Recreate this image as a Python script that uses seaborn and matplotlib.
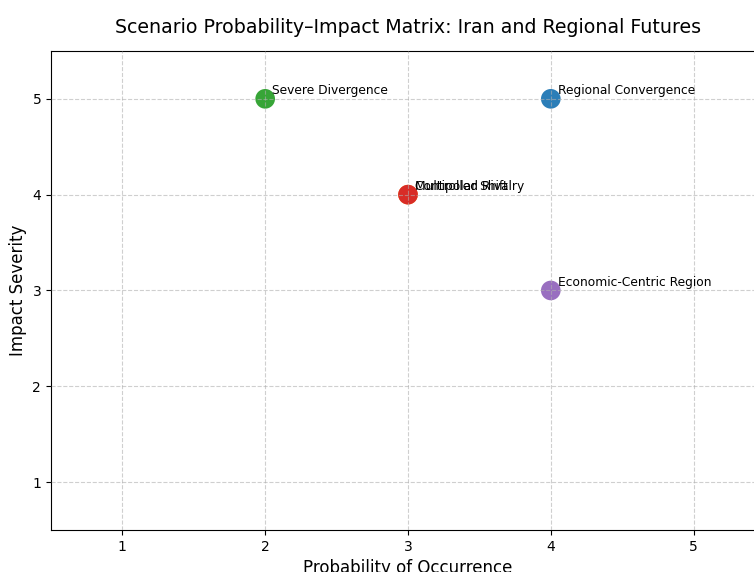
import matplotlib
matplotlib.use("Agg")
import matplotlib.pyplot as plt
import seaborn as sns
import pandas as pd

# scenario data
scenarios = ["Regional Convergence", "Controlled Rivalry", "Severe Divergence",
             "Multipolar Shift", "Economic-Centric Region"]
probability = [4, 3, 2, 3, 4]
impact = [5, 4, 5, 4, 3]

df = pd.DataFrame({"Scenario": scenarios, "Probability": probability, "Impact": impact})

fig = plt.figure(figsize=(7.54, 5.72), dpi=100)
# axes run past the right edge, as in the reference (cropped figure)
ax = fig.add_axes([0.0676, 0.0734, 0.9470, 0.8376])

sns.scatterplot(data=df, x="Probability", y="Impact", hue="Scenario",
                palette="tab10", s=200, alpha=0.95, linewidth=0,
                legend=False, ax=ax)

for _, row in df.iterrows():
    ax.text(row["Probability"] + 0.05, row["Impact"] + 0.05, row["Scenario"], fontsize=8.8)

ax.set_xlim(0.5, 5.5)
ax.set_ylim(0.5, 5.5)
ax.set_xticks([1, 2, 3, 4, 5])
ax.set_yticks([1, 2, 3, 4, 5])
ax.grid(True, linestyle="--", alpha=0.6)
ax.set_axisbelow(False)
ax.set_xlabel("Probability of Occurrence", fontsize=12)
ax.set_ylabel("Impact Severity", fontsize=12)
ax.set_title("Scenario Probability\u2013Impact Matrix: Iran and Regional Futures", fontsize=13.7, pad=13)

fig.savefig("out.png", dpi=100)
